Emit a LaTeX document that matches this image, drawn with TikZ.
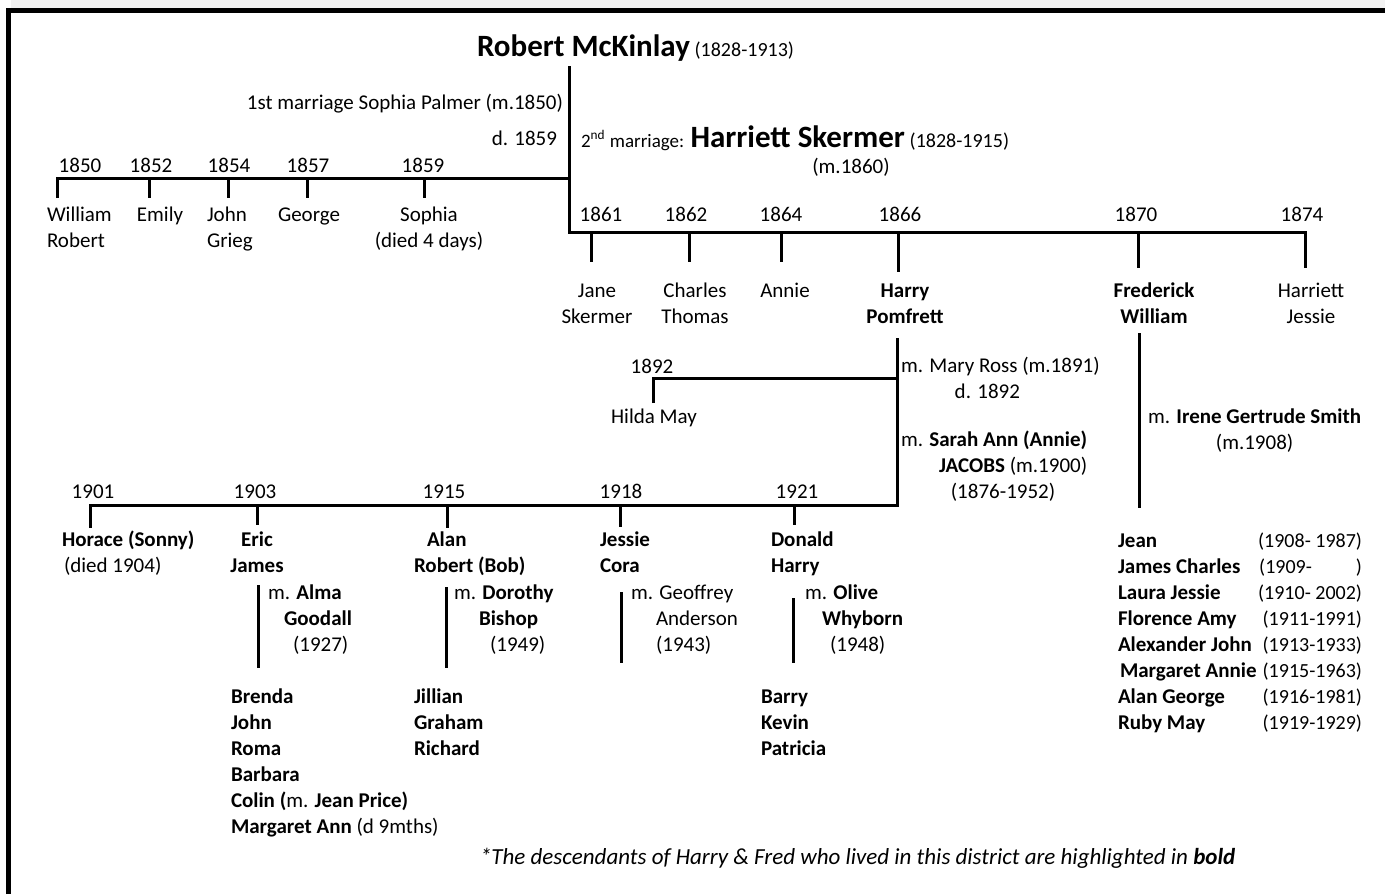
\documentclass[tikz,border=0pt]{standalone}
\usepackage{fontspec}
\setmainfont{Carlito}
\definecolor{bandgrey}{HTML}{F2F2F2}
\newcommand{\bigname}[1]{{\fontsize{15.5}{18}\selectfont\bfseries #1}}
\newcommand{\lifedates}[1]{{\fontsize{10}{13}\selectfont #1}}
\tikzset{
  every node/.style={inner sep=0pt, outer sep=0pt, font=\fontsize{10.5}{13}\selectfont},
  lived/.style={font=\fontsize{10.5}{13}\selectfont\bfseries},
  datecol/.style={font=\fontsize{10}{13}\selectfont},
  footnote/.style={font=\fontsize{11.5}{14}\selectfont\itshape},
  line/.style={line width=1.5pt},
  frame/.style={line width=2.5pt},
}
\begin{document}
\begin{tikzpicture}[x=0.5pt,y=-0.5pt]
      \useasboundingbox (0,0) rectangle (1385,894);
      \fill[bandgrey] (11,0) rectangle (1385,8);
      \draw[frame] (8.5,894) -- (8.5,10) -- (1385,10);

      \node[anchor=base west] (rm) at (477,56) {\bigname{Robert McKinlay} \lifedates{(1828-1913)}};
      \node[anchor=base east] (sp) at (563,109) {1st marriage Sophia Palmer (m.1850)};
      \node[anchor=base east] (spd) at (557,145) {d. 1859};
      \node[anchor=base west] (hs) at (581,147) {{\fontsize{9.5}{13}\selectfont 2\textsuperscript{nd} marriage:} \bigname{Harriett Skermer} \lifedates{(1828-1915)}};
      \node[anchor=base] (hsm) at (851,173) {(m.1860)};

      \node[anchor=base] (y1850) at (80,172) {1850};
      \node[anchor=base] (y1852) at (151,172) {1852};
      \node[anchor=base] (y1854) at (229,172) {1854};
      \node[anchor=base] (y1857) at (308,172) {1857};
      \node[anchor=base] (y1859) at (423,172) {1859};
      \node[anchor=base west, align=left] (wr) at (47,247) {William\\Robert};
      \node[anchor=base] (em) at (160,221) {Emily};
      \node[anchor=base west, align=left] (jg) at (207,247) {John\\Grieg};
      \node[anchor=base] (ge) at (309,221) {George};
      \node[anchor=base, align=center] (so) at (429,247) {Sophia\\(died 4 days)};

      \node[anchor=base] (y1861) at (601,221) {1861};
      \node[anchor=base] (y1862) at (686,221) {1862};
      \node[anchor=base] (y1864) at (781,221) {1864};
      \node[anchor=base] (y1866) at (900,221) {1866};
      \node[anchor=base] (y1870) at (1136,221) {1870};
      \node[anchor=base] (y1874) at (1302,221) {1874};
      \node[anchor=base, align=center] (js) at (597,323) {Jane\\Skermer};
      \node[anchor=base, align=center] (ct) at (695,323) {Charles\\Thomas};
      \node[anchor=base] (an) at (785,297) {Annie};
      \node[anchor=base, align=center, lived] (hp) at (905,323) {Harry\\Pomfrett};
      \node[anchor=base, align=center, lived] (fw) at (1154,323) {Frederick\\William};
      \node[anchor=base, align=center] (hj) at (1311,323) {Harriett\\Jessie};

      \node[anchor=base] (y1892) at (652,373) {1892};
      \node[anchor=base] (hm) at (654,423) {Hilda May};
      \node[anchor=base west, align=center] (mr) at (901,398) {m. Mary Ross (m.1891)\\d. 1892\hspace*{13pt}};
      \node[anchor=base west, align=right] (sa) at (901,498) {m. \textbf{Sarah Ann (Annie)}\\\textbf{JACOBS} (m.1900)\\(1876-1952)\hspace*{16pt}};

      \node[anchor=base] (y1901) at (93,498) {1901};
      \node[anchor=base] (y1903) at (255,498) {1903};
      \node[anchor=base] (y1915) at (444,498) {1915};
      \node[anchor=base] (y1918) at (621,498) {1918};
      \node[anchor=base] (y1921) at (797,498) {1921};
      \node[anchor=base west, align=left] (ho) at (62,572) {\textbf{Horace (Sonny)}\\\hspace*{1pt}(died 1904)};
      \node[anchor=base, align=center, lived] (ej) at (257,572) {Eric\\James};
      \node[anchor=base west, align=left, lived] (ar) at (414,572) {\hspace*{6.5pt}Alan\\Robert (Bob)};
      \node[anchor=base west, align=left, lived] (jc) at (600,572) {Jessie\\Cora};
      \node[anchor=base west, align=left, lived] (dh) at (771,572) {Donald\\Harry};

      \node[anchor=base west, align=left] (ejm) at (268,651) {m. \textbf{Alma}\\\hspace*{8pt}\textbf{Goodall}\\\hspace*{12.5pt}(1927)};
      \node[anchor=base west, align=left] (arm) at (454,651) {m. \textbf{Dorothy}\\\hspace*{12.5pt}\textbf{Bishop}\\\hspace*{18pt}(1949)};
      \node[anchor=base west, align=left] (jcm) at (631,651) {m. Geoffrey\\\hspace*{12.5pt}Anderson\\\hspace*{12.5pt}(1943)};
      \node[anchor=base west, align=left] (dhm) at (805,651) {m. \textbf{Olive}\\\hspace*{8.5pt}\textbf{Whyborn}\\\hspace*{12.5pt}(1948)};

      \node[anchor=base west, align=left, lived] (ejk) at (231,833) {Brenda\\John\\Roma\\Barbara\\Colin (\textmd{m.} Jean Price)\\Margaret Ann \textmd{(d 9mths)}};
      \node[anchor=base west, align=left, lived] (ark) at (414,755) {Jillian\\Graham\\Richard};
      \node[anchor=base west, align=left, lived] (dhk) at (761,755) {Barry\\Kevin\\Patricia};

      \node[anchor=base west, align=center] (fwm) at (1148,449) {m. \textbf{Irene Gertrude Smith}\\(m.1908)};
      \node[anchor=base west, align=left, lived] (fwk) at (1118,729) {Jean\\James Charles\\Laura Jessie\\Florence Amy\\Alexander John\\\hspace*{1pt}Margaret Annie\\Alan George\\Ruby May};
      \node[anchor=base east, align=right, datecol] (fwd) at (1362,729) {(1908- 1987)\\(1909-\hspace*{2.2em})\\(1910- 2002)\\(1911-1991)\hspace*{2pt}\\(1913-1933)\\(1915-1963)\\(1916-1981)\\(1919-1929)};

      \node[anchor=base west, footnote] (note) at (480,864) {*The descendants of Harry \& Fred who lived in this district are highlighted in \textbf{bold}};

      \coordinate (rtop) at (569,66);
      \coordinate (j1) at (569,178);
      \coordinate (j2) at (569,232);
      \coordinate (wr-t) at (57,198);
      \coordinate (em-t) at (149,198);
      \coordinate (jg-t) at (228,198);
      \coordinate (ge-t) at (307,198);
      \coordinate (so-t) at (424,198);
      \coordinate (js-t) at (591,262);
      \coordinate (ct-t) at (689,262);
      \coordinate (an-t) at (781,262);
      \coordinate (hp-t) at (898,272);
      \coordinate (fw-t) at (1138,268);
      \coordinate (hj-t) at (1305,268);
      \coordinate (hp-b) at (897,338);
      \coordinate (j3) at (897,505);
      \coordinate (j4) at (897,378);
      \coordinate (hm-t) at (653,403);
      \coordinate (ho-t) at (90,528);
      \coordinate (ej-t) at (257,525);
      \coordinate (ar-t) at (447,528);
      \coordinate (jc-t) at (620,527);
      \coordinate (dh-t) at (794,525);
      \coordinate (fw-b) at (1139,333);
      \coordinate (fw-e) at (1139,508);
      \coordinate (ej-m) at (258,585);
      \coordinate (ej-e) at (258,668);
      \coordinate (ar-m) at (446,587);
      \coordinate (ar-e) at (446,668);
      \coordinate (jc-m) at (621,592);
      \coordinate (jc-e) at (621,663);
      \coordinate (dh-m) at (793,598);
      \coordinate (dh-e) at (793,663);

      \begin{scope}[line]
        \draw (wr-t) to (wr-t |- j1) to (j1);
        \draw (em-t |- j1) to (em-t);
        \draw (jg-t |- j1) to (jg-t);
        \draw (ge-t |- j1) to (ge-t);
        \draw (so-t |- j1) to (so-t);
        \draw (rtop) to (j2) to (j2 -| hj-t) to (hj-t);
        \draw (js-t |- j2) to (js-t);
        \draw (ct-t |- j2) to (ct-t);
        \draw (an-t |- j2) to (an-t);
        \draw (hp-t |- j2) to (hp-t);
        \draw (fw-t |- j2) to (fw-t);
        \draw (hp-b) to (j3) to (j3 -| ho-t) to (ho-t);
        \draw (hm-t) to (hm-t |- j4) to (j4);
        \draw (ej-t |- j3) to (ej-t);
        \draw (ar-t |- j3) to (ar-t);
        \draw (jc-t |- j3) to (jc-t);
        \draw (dh-t |- j3) to (dh-t);
        \draw (fw-b) to (fw-e);
        \draw (ej-m) to (ej-e);
        \draw (ar-m) to (ar-e);
        \draw (jc-m) to (jc-e);
        \draw (dh-m) to (dh-e);
      \end{scope}
    \end{tikzpicture}
\end{document}
